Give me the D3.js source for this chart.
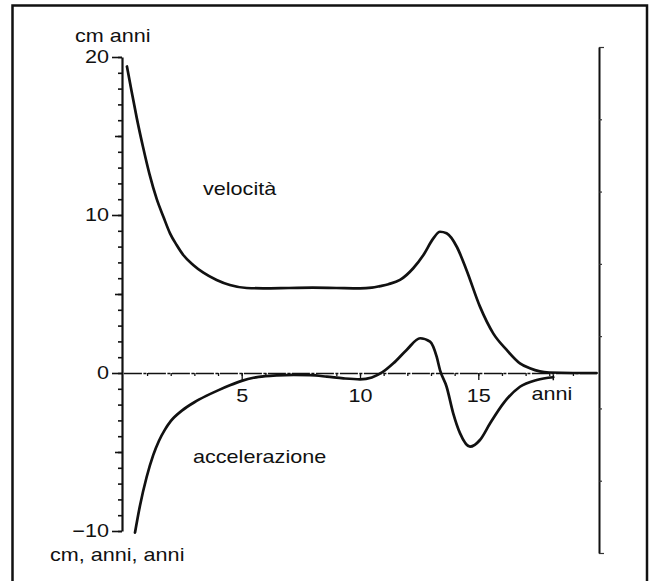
<!DOCTYPE html>
<html>
<head>
<meta charset="utf-8">
<script src="https://cdn.jsdelivr.net/npm/d3@7"></script>
<style>
  html, body { margin: 0; padding: 0; background: #fff; }
  svg { display: block; }
  text { font-family: "Liberation Sans", Arial, Helvetica, sans-serif; fill: #111; }
</style>
</head>
<body>
<svg id="chart" width="649" height="581"></svg>
<script>
// ---- data ----
const velX = [0.15,0.35,0.57,0.83,1.1,1.41,1.69,1.97,2.25,2.53,2.95,3.38,3.94,4.5,5.21,5.91,7,8,9,10,10.5,10.85,11.2,11.69,12.25,12.68,13.1,13.38,13.66,14.09,14.5,15.07,15.63,16.2,16.76,17.18,17.6,18,19,20];
const velY = [19.4,17.8,16.1,14.3,12.6,11.0,9.89,8.84,8.1,7.47,6.84,6.35,5.89,5.57,5.38,5.36,5.38,5.4,5.38,5.36,5.4,5.5,5.62,5.89,6.63,7.47,8.52,8.94,8.84,7.99,6.52,4.2,2.51,1.46,0.61,0.3,0.1,0.03,0,0];

const accX = [0.49,0.7,0.98,1.26,1.5,1.75,2.0,2.5,3.0,3.5,4.0,4.5,5.0,5.5,6.0,6.5,7.2,7.9,8.6,9.3,10.0,10.5,10.95,11.41,11.97,12.54,12.96,13.24,13.38,13.66,13.94,14.23,14.65,15.07,15.5,16.06,16.76,17.47,18.17];
const accY = [-10.1,-8.4,-6.6,-5.2,-4.3,-3.6,-3.05,-2.35,-1.85,-1.45,-1.1,-0.78,-0.5,-0.3,-0.2,-0.15,-0.12,-0.14,-0.23,-0.34,-0.4,-0.28,0.05,0.61,1.46,2.2,1.98,1.03,0.19,-0.87,-2.55,-3.82,-4.66,-4.24,-3.18,-1.92,-0.87,-0.44,-0.27];

const yLabelTicks = [-10, 0, 10, 20];
const yMidTicks = [-5, 5, 15];
const yMinorTicks = d3.range(-10, 21);
const xLabelTicks = [5, 10, 15];
const xMinorTicks = d3.range(1, 20);
const rightTicks = d3.range(0, 8);

const labels = {
  yTop: "cm anni",
  yBottom: "cm, anni, anni",
  xUnit: "anni",
  vel: "velocità",
  acc: "accelerazione"
};

// ---- layout ----
const svg = d3.select("#chart");
const SX = 1.2; // horizontal stretch of the lettering
const FS = 18;

const x = d3.scaleLinear().domain([0, 20]).range([123.4, 596.6]);
const y = d3.scaleLinear().domain([-10, 20]).range([531, 57]);
const yR = d3.scaleLinear().domain([0, 7]).range([553, 47]);

// outer frame
svg.append("rect")
  .attr("x", 12.5).attr("y", 5.5)
  .attr("width", 634.5).attr("height", 600)
  .attr("fill", "none").attr("stroke", "#111").attr("stroke-width", 2.5);

function stretchTexts(sel) {
  sel.selectAll("text").each(function() {
    const t = d3.select(this);
    const tx = +t.attr("x") || 0;
    t.attr("x", 0)
     .attr("transform", `translate(${tx},0) scale(${SX},1)`)
     .attr("font-size", FS)
     .attr("font-family", '"Liberation Sans", Arial, sans-serif')
     .attr("fill", "#111");
  });
}

// left axis: minor ticks
const gLm = svg.append("g").attr("transform", `translate(${x(0) - 1.4},0)`)
  .call(d3.axisLeft(y).tickValues(yMinorTicks).tickSize(4).tickSizeOuter(0).tickFormat(""));
gLm.select(".domain").attr("stroke", "#111").attr("stroke-width", 2.2);
gLm.selectAll(".tick line").attr("stroke", "#111").attr("stroke-width", 1.6);

const gL5 = svg.append("g").attr("transform", `translate(${x(0) - 1.4},0)`)
  .call(d3.axisLeft(y).tickValues(yMidTicks).tickSize(7).tickFormat(""));
gL5.select(".domain").remove();
gL5.selectAll(".tick line").attr("stroke", "#111").attr("stroke-width", 1.6);

const gL = svg.append("g").attr("transform", `translate(${x(0) - 1.4},0)`)
  .call(d3.axisLeft(y).tickValues(yLabelTicks).tickSize(10).tickPadding(3).tickFormat(d3.format("d")));
gL.select(".domain").remove();
gL.selectAll(".tick line").attr("stroke", "#111").attr("stroke-width", 1.6);
stretchTexts(gL);

// x axis (zero line)
const gXm = svg.append("g").attr("transform", `translate(0,${y(0)})`)
  .call(d3.axisBottom(x).tickValues(xMinorTicks).tickSize(3).tickSizeOuter(0).tickFormat(""));
gXm.select(".domain").attr("stroke", "#111").attr("stroke-width", 1.5).attr("stroke-dasharray", "18,1.5,3,1.5");
gXm.selectAll(".tick line").attr("stroke", "#111").attr("stroke-width", 1.3);

const gX = svg.append("g").attr("transform", `translate(0,${y(0)})`)
  .call(d3.axisBottom(x).tickValues(xLabelTicks).tickSize(7).tickPadding(9).tickFormat(d3.format("d")));
gX.select(".domain").remove();
gX.selectAll(".tick line").attr("stroke", "#111").attr("stroke-width", 1.3);
stretchTexts(gX);

// right bracket axis
const gR = svg.append("g").attr("transform", `translate(599,0)`)
  .call(d3.axisRight(yR).tickValues(rightTicks).tickSize(3).tickSizeOuter(0).tickFormat(""));
gR.select(".domain").attr("stroke", "#111").attr("stroke-width", 2);
gR.selectAll(".tick line").attr("stroke", "#333").attr("stroke-width", 1.2)
  .attr("x2", d => (d === 0 || d === 7) ? 5 : 3);

// curves
const line = d3.line().curve(d3.curveMonotoneX);
svg.append("path")
  .attr("d", line(velX.map((v, i) => [x(v), y(velY[i])])))
  .attr("fill", "none").attr("stroke", "#111").attr("stroke-width", 2.7)
  .attr("stroke-linejoin", "round").attr("stroke-linecap", "round");
svg.append("path")
  .attr("d", line(accX.map((v, i) => [x(v), y(accY[i])])))
  .attr("fill", "none").attr("stroke", "#111").attr("stroke-width", 2.7)
  .attr("stroke-linejoin", "round").attr("stroke-linecap", "round");

// small end mark of the acceleration curve
svg.append("line")
  .attr("x1", x(accX[accX.length - 1])).attr("x2", x(accX[accX.length - 1]))
  .attr("y1", y(accY[accY.length - 1]) - 3).attr("y2", y(accY[accY.length - 1]) + 3)
  .attr("stroke", "#111").attr("stroke-width", 1.5);

// texts
function label(txt, px, py, anchor) {
  svg.append("text")
    .attr("transform", `translate(${px},${py}) scale(${SX},1)`)
    .attr("font-size", FS)
    .attr("text-anchor", anchor || "start")
    .text(txt);
}
label(labels.yTop, 75, 41.5);
label(labels.yBottom, 50, 561);
label(labels.vel, 203, 195);
label(labels.acc, 193, 463);
label(labels.xUnit, 552, 400, "middle");
</script>
</body>
</html>
